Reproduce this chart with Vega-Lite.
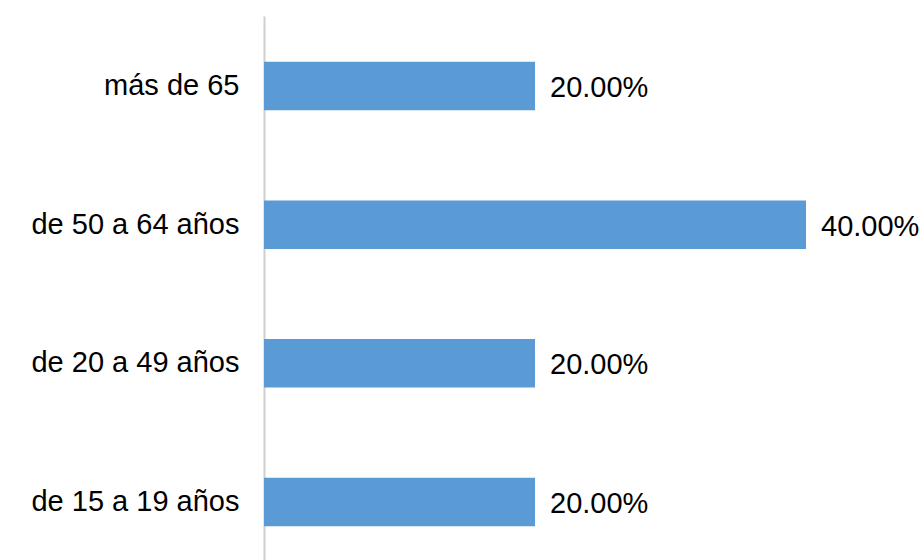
{
  "$schema": "https://vega.github.io/schema/vega-lite/v6.json",
  "autosize": "none",
  "width": 542,
  "height": 556,
  "padding": {"left": 264, "top": 16, "right": 118, "bottom": 0},
  "background": "white",
  "config": {"view": {"stroke": null}, "font": "Liberation Sans"},
  "data": {"values": [
    {"grupo": "más de 65", "valor": 0.2},
    {"grupo": "de 50 a 64 años", "valor": 0.4},
    {"grupo": "de 20 a 49 años", "valor": 0.2},
    {"grupo": "de 15 a 19 años", "valor": 0.2}
  ]},
  "encoding": {
    "y": {"field": "grupo", "type": "nominal", "sort": null,
      "scale": {"paddingInner": 0.65, "paddingOuter": 0.33},
      "axis": {"title": null, "ticks": false, "domainColor": "#d0d0d0", "domainWidth": 2,
        "labelFontSize": 29, "labelColor": "#000000", "labelPadding": 25, "labelFont": "Liberation Sans", "labelLimit": 300}},
    "x": {"field": "valor", "type": "quantitative",
      "scale": {"domain": [0, 0.4], "nice": false},
      "axis": null}
  },
  "layer": [
    {"mark": {"type": "bar", "color": "#5b9bd5"}},
    {"mark": {"type": "text", "align": "left", "baseline": "middle", "dx": 15, "dy": 2, "fontSize": 29, "color": "#000000", "font": "Liberation Sans"},
     "encoding": {"text": {"field": "valor", "type": "quantitative", "format": ".2%"}}}
  ]
}
